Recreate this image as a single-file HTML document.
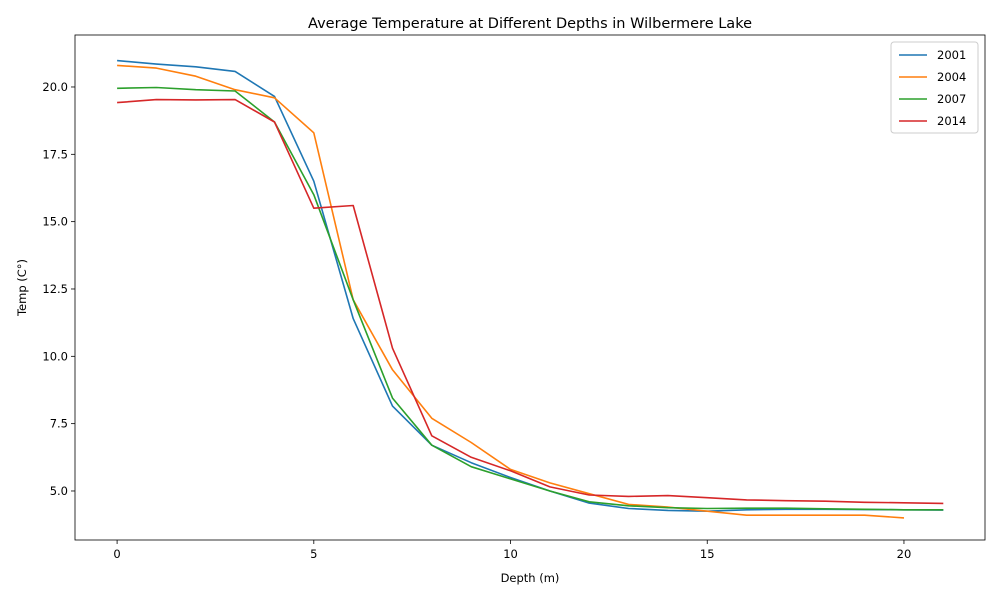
<!DOCTYPE html>
<html><head><meta charset="utf-8"><style>
body{margin:0;background:#fff;font-family:"DejaVu Sans","Liberation Sans",sans-serif;}
</style></head><body>
<svg id="chart" width="1000" height="600" xmlns="http://www.w3.org/2000/svg" font-family="DejaVu Sans, Liberation Sans, sans-serif"></svg>
<script>
const depths=[0,1,2,3,4,5,6,7,8,9,10,11,12,13,14,15,16,17,18,19,20,21];
const years=["2001","2004","2007","2014"];
const s2001=[20.98,20.85,20.75,20.58,19.65,16.5,11.4,8.15,6.7,6.05,5.5,5.0,4.55,4.35,4.28,4.25,4.3,4.32,4.32,4.31,4.3,4.29];
const s2004=[20.8,20.7,20.4,19.9,19.6,18.3,12.1,9.5,7.7,6.8,5.8,5.3,4.9,4.5,4.4,4.25,4.1,4.1,4.1,4.1,4.0];
const s2007=[19.95,19.98,19.9,19.85,18.7,16.0,12.1,8.45,6.7,5.9,5.45,5.0,4.6,4.45,4.38,4.35,4.36,4.36,4.34,4.32,4.3,4.3];
const s2014=[19.42,19.53,19.52,19.53,18.7,15.5,15.6,10.3,7.05,6.25,5.75,5.15,4.85,4.8,4.83,4.75,4.67,4.64,4.62,4.58,4.56,4.54];
const xTicks=[0,5,10,15,20];
const yTicks=[5.0,7.5,10.0,12.5,15.0,17.5,20.0];
const colors=["#1f77b4","#ff7f0e","#2ca02c","#d62728"];
const series=[s2001,s2004,s2007,s2014];
const L=75,R=985,T=35,B=540;
const xMin=-1.07,xMax=22.06,yMin=3.18,yMax=21.93;
const xs=v=>L+(v-xMin)/(xMax-xMin)*(R-L);
const ys=v=>B-(v-yMin)/(yMax-yMin)*(B-T);
const svg=document.getElementById('chart');
const NS="http://www.w3.org/2000/svg";
function mk(tag,attrs,txt){const e=document.createElementNS(NS,tag);for(const k in attrs)e.setAttribute(k,attrs[k]);if(txt!==undefined)e.textContent=txt;svg.appendChild(e);return e;}
let t=mk('text',{x:530,y:28,'text-anchor':'middle','font-size':14.5,fill:'#000'},'Average Temperature at Different Depths in Wilbermere Lake');


xTicks.forEach(v=>{const x=xs(v);
 let l=mk('line',{x1:x,x2:x,y1:B,y2:B+4,stroke:'#000','stroke-width':0.8});
 
 
 let tx=mk('text',{x:x,y:B+18,'text-anchor':'middle','font-size':11.5,fill:'#000'},String(v));
 
 });
yTicks.forEach(v=>{const y=ys(v);
 let l=mk('line',{x1:L-4,x2:L,y1:y,y2:y,stroke:'#000','stroke-width':0.8});
 
 
 let tx=mk('text',{x:L-7,y:y+4,'text-anchor':'end','font-size':11.5,fill:'#000'},v.toFixed(1));
 
 });
series.forEach((s,i)=>{
 const d=s.map((v,j)=>(j?'L':'M')+xs(depths[j]).toFixed(1)+','+ys(v).toFixed(1)).join(' ');
 let p=mk('path',{d:d,fill:'none',stroke:colors[i],'stroke-width':1.6,'stroke-linejoin':'round'});
 
 });
let fr=mk('rect',{x:L,y:T,width:R-L,height:B-T,fill:'none',stroke:'#000','stroke-width':0.8});


let xl=mk('text',{x:(L+R)/2,y:582,'text-anchor':'middle','font-size':11.5,fill:'#000'},'Depth (m)');


let yl=mk('text',{x:0,y:0,'text-anchor':'middle','font-size':11.5,fill:'#000',transform:'translate(26,'+((T+B)/2)+') rotate(-90)'},'Temp (C°)');


let lg=mk('rect',{x:891,y:42,width:87,height:91,fill:'#fff',stroke:'#ccc','stroke-width':1,rx:3});


years.forEach((yr,i)=>{const y=55+i*22;
 let l=mk('line',{x1:899,x2:927,y1:y,y2:y,stroke:colors[i],'stroke-width':1.6});
 
 
 let tx=mk('text',{x:937,y:y+4,'font-size':11.5,fill:'#000'},yr);
 
 });
</script>
</body></html>
